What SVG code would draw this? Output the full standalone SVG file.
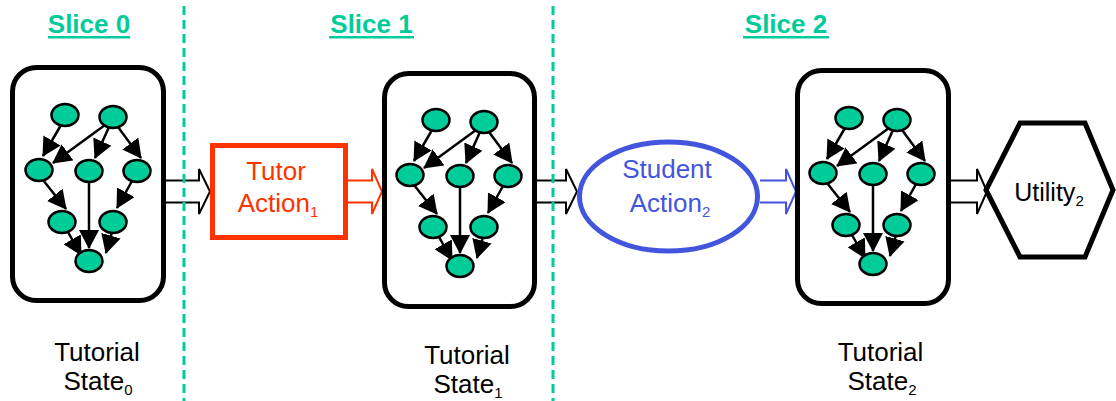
<svg xmlns="http://www.w3.org/2000/svg" xmlns:xlink="http://www.w3.org/1999/xlink" width="1116" height="401" viewBox="0 0 1116 401">
<style>
text{font-family:"Liberation Sans",Arial,sans-serif}
.slice{font-size:26px;font-weight:bold;fill:#00CC99}
.ul{fill:#00CC99}
.lbl{font-size:26px;fill:#000}
.sub{font-size:15px}
.box{fill:#fff;stroke:#000;stroke-width:5}
.gn{fill:#00CC99;stroke:#000;stroke-width:2.5}
.ge{stroke:#000;stroke-width:2.5;fill:none;marker-end:url(#ah)}
.sep{stroke:#00CC99;stroke-width:3;stroke-dasharray:9 5}
.blk{fill:#fff;stroke:#000;stroke-width:2}
</style>
<defs>
<marker id="ah" markerUnits="userSpaceOnUse" markerWidth="20" markerHeight="20" refX="18" refY="10" orient="auto" viewBox="0 0 20 20">
<path d="M0,0 L19,10 L0,20 z" fill="#000"/>
</marker>
<g id="graph">
<line class="ge" x1="51" y1="60" x2="33" y2="91"/>
<line class="ge" x1="95" y1="60" x2="43" y2="98"/>
<line class="ge" x1="99" y1="62" x2="85" y2="93"/>
<line class="ge" x1="108" y1="62" x2="131" y2="93"/>
<line class="ge" x1="33" y1="115" x2="56" y2="144"/>
<line class="ge" x1="79" y1="117" x2="79" y2="183"/>
<line class="ge" x1="122" y1="116" x2="107" y2="143"/>
<line class="ge" x1="58" y1="167" x2="71" y2="190"/>
<line class="ge" x1="102" y1="167" x2="96" y2="188"/>
<ellipse class="gn" cx="55" cy="50" rx="13.5" ry="11"/>
<ellipse class="gn" cx="103" cy="52" rx="13.5" ry="11"/>
<ellipse class="gn" cx="29" cy="105" rx="13.5" ry="11"/>
<ellipse class="gn" cx="79" cy="106" rx="13.5" ry="11"/>
<ellipse class="gn" cx="127" cy="106" rx="13.5" ry="11"/>
<ellipse class="gn" cx="52" cy="157" rx="13.5" ry="11"/>
<ellipse class="gn" cx="103" cy="157" rx="13.5" ry="11"/>
<ellipse class="gn" cx="79" cy="196" rx="13.5" ry="11"/>
</g>
</defs>

<g id="slice-labels">
<text class="slice" x="89" y="33" text-anchor="middle">Slice 0</text>
<rect class="ul" x="48" y="36" width="82" height="2.5"/>
<text class="slice" x="371.5" y="33" text-anchor="middle">Slice 1</text>
<rect class="ul" x="329" y="36" width="85" height="2.5"/>
<text class="slice" x="786" y="33" text-anchor="middle">Slice 2</text>
<rect class="ul" x="743" y="36" width="86" height="2.5"/>
</g>

<g id="connectors">
<path class="blk" d="M166,180.5 H199 V169 L210,191.5 L199,214 V202.5 H166"/>
<path d="M348,180.5 H372 V169 L382,191.5 L372,214 V202.5 H348" fill="#fff" stroke="#FF3300" stroke-width="2"/>
<path class="blk" d="M537,180.5 H566 V169 L577,191.5 L566,214 V202.5 H537"/>
<path d="M760,180.5 H786 V169 L796,191.5 L786,214 V202.5 H760" fill="#fff" stroke="#4455DD" stroke-width="2"/>
<path class="blk" d="M951,180.5 H977 V169 L987,191.5 L977,214 V202.5 H951"/>
</g>

<g id="state0">
<rect class="box" x="12.5" y="67.5" width="151" height="233" rx="24"/>
<use xlink:href="#graph" href="#graph" transform="translate(10,65)"/>
<text class="lbl" x="97" y="361" text-anchor="middle">Tutorial</text>
<text class="lbl" x="98" y="390" text-anchor="middle">State<tspan class="sub" dy="5">0</tspan></text>
</g>

<g id="tutor-action">
<rect x="212.5" y="145.5" width="133" height="92" fill="#fff" stroke="#FF3300" stroke-width="5"/>
<text class="lbl" x="276" y="180" text-anchor="middle" style="fill:#FF3300">Tutor</text>
<text class="lbl" x="278" y="212" text-anchor="middle" style="fill:#FF3300">Action<tspan class="sub" dy="5">1</tspan></text>
</g>

<g id="state1">
<rect class="box" x="384.5" y="73.5" width="150" height="233" rx="24"/>
<use xlink:href="#graph" href="#graph" transform="translate(381,70)"/>
<text class="lbl" x="467" y="364" text-anchor="middle">Tutorial</text>
<text class="lbl" x="468" y="393" text-anchor="middle">State<tspan class="sub" dy="5">1</tspan></text>
</g>

<g id="student-action">
<ellipse cx="668.5" cy="196.5" rx="89" ry="54.5" fill="#fff" stroke="#4455DD" stroke-width="5"/>
<text class="lbl" x="667" y="178" text-anchor="middle" style="fill:#4455DD">Student</text>
<text class="lbl" x="670" y="212" text-anchor="middle" style="fill:#4455DD">Action<tspan class="sub" dy="5">2</tspan></text>
</g>

<g id="state2">
<rect class="box" x="797.5" y="70.5" width="151" height="233" rx="24"/>
<use xlink:href="#graph" href="#graph" transform="translate(794,68)"/>
<text class="lbl" x="880.5" y="361" text-anchor="middle">Tutorial</text>
<text class="lbl" x="882" y="390" text-anchor="middle">State<tspan class="sub" dy="5">2</tspan></text>
</g>

<g id="utility">
<polygon points="986,190 1020,123 1085,123 1113,190 1085,257 1020,257" fill="#fff" stroke="#000" stroke-width="5" stroke-linejoin="miter"/>
<text class="lbl" x="1049" y="201" text-anchor="middle" style="font-size:25px">Utility<tspan class="sub" dy="5">2</tspan></text>
</g>

<g id="separators">
<line class="sep" x1="184" y1="6" x2="184" y2="401"/>
<line class="sep" x1="553" y1="6" x2="553" y2="401"/>
</g>
</svg>
